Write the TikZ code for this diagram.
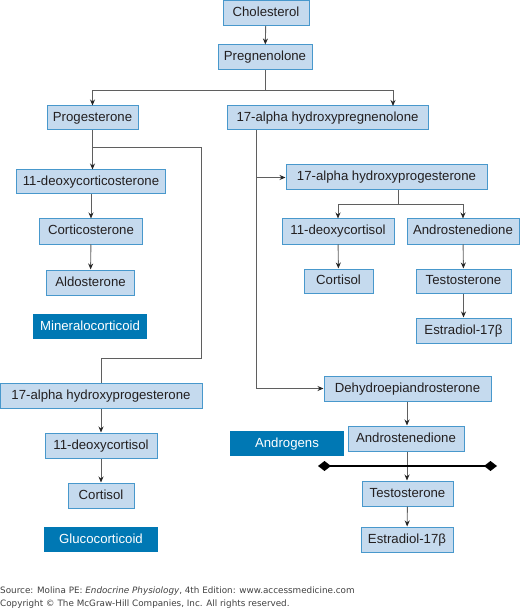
\documentclass[tikz,border=0pt]{standalone}
\usepackage{fontspec}
\setmainfont{Liberation Sans}
\newfontfamily\srcfont{DejaVu Sans}
\usetikzlibrary{arrows.meta}
\definecolor{boxfill}{RGB}{197,218,238}
\definecolor{boxline}{RGB}{72,152,204}
\definecolor{darkfill}{RGB}{0,120,180}
\definecolor{conncol}{RGB}{95,95,95}
\definecolor{txtcol}{RGB}{35,31,32}
\begin{document}
\begin{tikzpicture}[x=1pt,y=-1pt,
  pbox/.style={draw=boxline,fill=boxfill,line width=1pt,inner sep=0pt,text=txtcol,
    text height=9.6pt,text depth=2.6pt,
    font=\fontsize{13.2}{15}\selectfont},
  gbox/.style={fill=darkfill,inner sep=0pt,text=white,text height=9.6pt,text depth=2.6pt,
    font=\fontsize{13.2}{15}\selectfont},
  conn/.style={draw=conncol,line width=0.9pt},
  arr/.style={conn,-{Stealth[length=6pt,width=5pt,fill=black!85,color=black!85]}},
  bar/.style={draw=black,line width=2.6pt,{Diamond[length=13pt,width=10pt]}-{Diamond[length=13pt,width=10pt]}}
]
\useasboundingbox (0,0) rectangle (520,609);
% boxes: center, width, height
\node[pbox,minimum width=86pt,minimum height=25pt] (chol) at (266,12.8) {Cholesterol};
\node[pbox,minimum width=94pt,minimum height=25pt] (preg) at (265,57.5) {Pregnenolone};
\node[pbox,minimum width=91pt,minimum height=24pt] (prog) at (92.5,118) {Progesterone};
\node[pbox,minimum width=201pt,minimum height=24pt] (hpreg) at (327.5,118) {17-alpha hydroxypregnenolone};
\node[pbox,minimum width=149pt,minimum height=24pt] (docs) at (91,182) {11-deoxycorticosterone};
\node[pbox,minimum width=103pt,minimum height=25pt] (cort) at (91,231.5) {Corticosterone};
\node[pbox,minimum width=88pt,minimum height=25pt] (aldo) at (90.5,282.5) {Aldosterone};
\node[gbox,minimum width=114pt,minimum height=25pt] (mineral) at (90,326.5) {Mineralocorticoid};
\node[pbox,minimum width=202pt,minimum height=25pt] (lhp) at (101,395.5) {17-alpha hydroxyprogesterone};
\node[pbox,minimum width=112pt,minimum height=25pt] (ldc) at (101,445.5) {11-deoxycortisol};
\node[pbox,minimum width=66pt,minimum height=25pt] (lcort) at (101,495.5) {Cortisol};
\node[gbox,minimum width=114pt,minimum height=25pt] (gluco) at (101,539.5) {Glucocorticoid};
\node[pbox,minimum width=201pt,minimum height=25pt] (rhp) at (386.5,177.5) {17-alpha hydroxyprogesterone};
\node[pbox,minimum width=112pt,minimum height=25pt] (rdc) at (338,231.5) {11-deoxycortisol};
\node[pbox,minimum width=112pt,minimum height=25pt] (rand) at (463,231.5) {Androstenedione};
\node[pbox,minimum width=69pt,minimum height=24pt] (rcort) at (338.5,281) {Cortisol};
\node[pbox,minimum width=95pt,minimum height=24pt] (rtest) at (463.5,281) {Testosterone};
\node[pbox,minimum width=95pt,minimum height=25pt] (rest) at (463.5,330.5) {Estradiol-17β};
\node[pbox,minimum width=167pt,minimum height=25pt] (dhea) at (407.5,388.5) {Dehydroepiandrosterone};
\node[pbox,minimum width=116pt,minimum height=25pt] (band) at (406,438.5) {Androstenedione};
\node[gbox,minimum width=114pt,minimum height=25pt] (andro) at (287,443.5) {Androgens};
\node[pbox,minimum width=91pt,minimum height=25pt] (btest) at (407.5,493.5) {Testosterone};
\node[pbox,minimum width=92pt,minimum height=25pt] (best) at (407,539.5) {Estradiol-17β};
% junction coordinates
\coordinate (j1) at (265,90);
\coordinate (hpin) at (393,106);
\coordinate (j2) at (92,147);
\coordinate (j3) at (256,177.5);
\coordinate (j4) at (398,204);
\coordinate (rhpout) at (398,190);
\coordinate (barl) at (318,466);
\coordinate (barr) at (497,466);
% connectors
\draw[arr] (chol) -- (preg);
\draw[conn] (preg.south) -- (j1);
\draw[arr] (j1) -| (prog.north);
\draw[arr] (j1) -| (hpin);
\draw[arr] (prog.south) -- (docs.north -| prog.south);
\draw[conn] (j2) -| (201,358) -| (lhp.north);
\draw[arr] (docs) -- (cort);
\draw[arr] (cort) -- (aldo);
\draw[arr] (lhp) -- (ldc);
\draw[arr] (ldc) -- (lcort);
\draw[arr] (hpreg.south -| j3) |- (dhea.west);
\draw[arr] (j3) -- (rhp.west);
\draw[conn] (rhpout) -- (j4);
\draw[arr] (j4) -| (rdc.north);
\draw[arr] (j4) -| (rand.north);
\draw[arr] (rdc) -- (rcort);
\draw[arr] (rand) -- (rtest);
\draw[arr] (rtest) -- (rest);
\draw[arr] (dhea.south -| 407,0) -- (band.north -| 407,0);
\draw[arr] (band.south -| 407,0) -- (btest.north -| 407,0);
\draw[arr] (btest) -- (best);
\draw[bar] (barl) -- (barr);
% source
\node[anchor=west,inner sep=0pt,text=black!75,font=\srcfont\fontsize{8.8}{10}\selectfont] (src) at (0,591) {Source: Molina PE: \textit{Endocrine Physiology}, 4th Edition: www.accessmedicine.com};
\node[anchor=west,inner sep=0pt,text=black!75,font=\srcfont\fontsize{8.8}{10}\selectfont] (copy) at (0,604) {Copyright © The McGraw-Hill Companies, Inc. All rights reserved.};
\end{tikzpicture}
\end{document}
